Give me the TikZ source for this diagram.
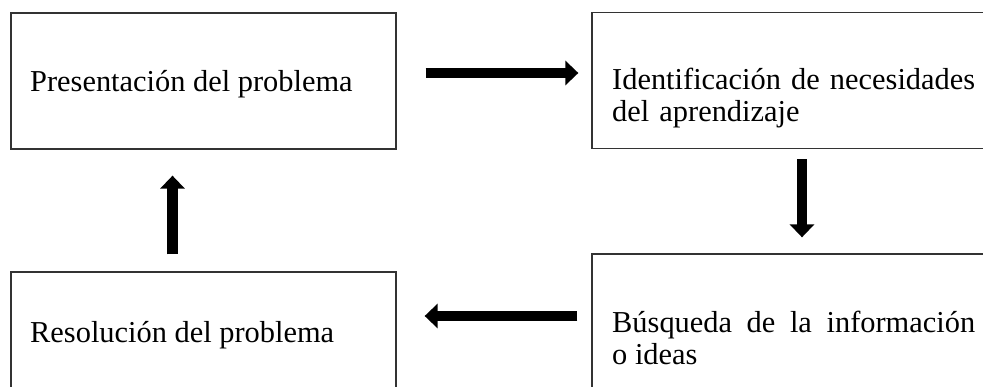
\documentclass[tikz,border=0pt]{standalone}
\usepackage{fontspec}
\setmainfont{Liberation Serif}
\usetikzlibrary{arrows.meta}
\tikzset{
	caja/.style={draw=black!80, line width=1.3pt, minimum height=136pt, inner sep=0pt},
	texto/.style={anchor=base west, inner sep=0pt, font=\fontsize{30.4}{32}\selectfont},
	flecha/.style={line width=10.5pt, -{Triangle[length=13pt,width=24pt]}}
}
\begin{document}
\begin{tikzpicture}[x=1pt, y=-1pt]
	\useasboundingbox (0,0) rectangle (983,387);
	\node [caja, minimum width=385pt] (pres) at (203.5,81) {};
	\node [caja, minimum width=420pt] (ident) at (802,80.5) {};
	\node [caja, minimum width=420pt] (busq) at (802,322) {};
	\node [caja, minimum width=385pt] (reso) at (203.5,340) {};
	\node [texto] (tpres) at (30,92) {Presentación del problema};
	\node [texto, text width=363pt, align=left] (tident) at (612,90)
		{Identificación de necesidades\\del aprendizaje};
	\node [texto, text width=363pt, align=justify] (tbusq) at (612,333)
		{Búsqueda de la información\linebreak o ideas};
	\node [texto] (treso) at (30,343) {Resolución del problema};
	\draw [flecha, shorten <=29pt, shorten >=13pt] ([yshift=8pt]pres.east) -- ([yshift=8pt]pres.east -| ident.west);
	\draw [flecha, shorten <=10pt, shorten >=16pt] (ident.south) -- (ident.south |- busq.north);
	\draw [flecha, shorten <=14pt, shorten >=28pt] ([yshift=6pt]busq.west) -- ([yshift=6pt]busq.west -| reso.east);
	\draw [flecha, shorten <=17pt, shorten >=26pt] ([xshift=-31pt]reso.north) -- ([xshift=-31pt]reso.north |- pres.south);
\end{tikzpicture}
\end{document}
